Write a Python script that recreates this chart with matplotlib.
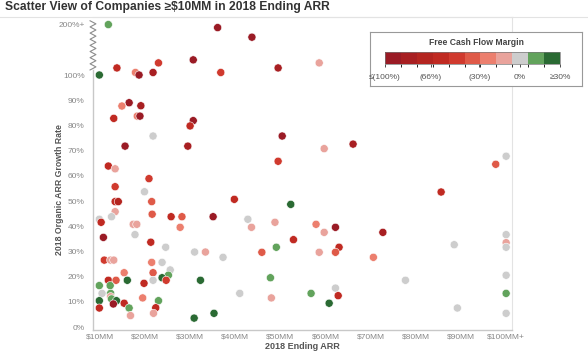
import numpy as np
import matplotlib
matplotlib.use('Agg')
import matplotlib.pyplot as plt
from matplotlib.colors import ListedColormap, BoundaryNorm
from matplotlib.lines import Line2D
import matplotlib.transforms as mtransforms

plt.rcParams['font.family'] = ['Liberation Sans', 'DejaVu Sans']

# 2018 ending ARR ($MM, 100 = "$100MM+"), organic growth (%, 200 = "200%+"), FCF margin (%)
arr = [11.9, 36.1, 43.7, 9.9, 13.8, 17.9, 18.7, 21.8, 23.0, 30.7, 36.8, 49.5, 58.6,
       16.5, 14.9, 19.1, 13.1, 18.3, 18.9, 30.7, 30.0, 21.8, 15.6, 29.5, 11.9, 13.4,
       20.9, 13.4, 19.9, 13.4, 14.1, 21.5, 39.8, 13.4, 21.6, 9.9, 12.6, 10.3, 25.8,
       28.2, 35.1, 27.8, 17.4, 18.2, 17.8, 10.8, 21.3, 24.6, 31.0, 33.4, 37.3, 11.0,
       12.4, 13.1, 21.5, 23.8, 25.6, 15.4, 21.8, 25.2, 23.8, 24.7, 21.8, 16.1, 32.3,
       11.9, 13.6, 19.8, 9.9, 12.3, 10.5, 12.4, 12.4, 12.6, 19.5, 9.9, 13.7, 23.0,
       13.0, 15.4, 16.5, 22.4, 9.9, 21.9, 16.8, 30.9, 35.3, 41.0,
       50.4, 59.7, 66.1, 49.5, 52.3, 42.8, 43.6, 48.8, 57.9, 62.2, 59.7, 72.7, 52.9,
       49.1, 63.0, 45.9, 58.6, 62.2, 70.6, 77.7, 47.8, 48.0, 56.8, 62.2, 62.8, 60.8,
       100, 97.7, 85.6, 100, 100, 100, 88.5, 100, 100, 89.2, 100]
growth = [200, 194, 175, 100, 114, 105, 100, 105, 124, 130, 105, 114, 124,
          89.0, 87.7, 87.8, 82.8, 83.7, 83.7, 81.9, 79.8, 75.8, 71.8, 71.8, 63.9, 62.8,
          58.9, 55.7, 53.7, 49.8, 49.8, 49.8, 50.7, 45.8, 44.8, 42.8, 43.8, 41.6, 43.8,
          43.8, 43.8, 39.6, 40.8, 40.8, 36.7, 35.6, 33.7, 31.7, 29.8, 29.8, 27.7, 26.6,
          26.6, 26.6, 25.7, 25.7, 22.7, 21.6, 21.6, 20.6, 19.6, 18.6, 18.6, 18.6, 18.6,
          18.6, 18.6, 17.4, 16.5, 16.5, 13.4, 13.4, 12.1, 11.2, 11.6, 10.5, 10.5, 10.5,
          9.2, 9.5, 7.6, 7.7, 7.6, 5.5, 4.6, 3.6, 5.5, 13.4,
          75.8, 70.8, 72.6, 65.8, 48.7, 42.8, 39.6, 41.6, 40.8, 39.6, 37.6, 37.6, 34.7,
          31.7, 31.7, 29.7, 29.7, 29.7, 27.7, 18.6, 19.6, 11.6, 13.4, 15.5, 12.5, 9.5,
          67.8, 64.6, 53.6, 36.7, 33.5, 31.7, 32.7, 20.6, 13.4, 7.6, 5.5]
fcf = [12, -110, -110, 25, -58, -23, -110, -82, -47, -110, -47, -82, -11,
       -110, -23, -82, -58, -23, -110, -110, -58, 0, -110, -82, -58, -11,
       -47, -47, 0, -58, -70, -35, -58, -11, -35, 0, 0, -58, -58,
       -35, -110, -23, -11, -11, 0, -110, -58, 0, 0, -11, 0, -47,
       -11, -11, -23, 0, 0, -23, -35, 12, 25, -47, 0, 25, 25,
       -58, -35, -58, 12, 12, 0, 12, -11, 12, -23, 25, 25, 12,
       -110, -58, 12, -58, -58, -11, -11, 25, 25, 0,
       -110, -11, -82, -47, 25, 0, -11, -11, -23, -110, -11, -82, -58,
       12, -58, -35, -11, -35, -23, 0, 12, -11, 12, 0, -58, 25,
       0, -35, -58, 0, -11, 0, 0, 0, 12, 0, 0]

legend_colors = ['#9a1b25', '#a81f22', '#b42520', '#c02a22', '#d03a2e', '#df5a48',
                 '#ec7f6e', '#e9a39c', '#cdcdcd', '#62a35c', '#2a6a33']
legend_ticks = [-100, -66, -30, 0, 30]
legend_labels = ['≤(100%)', '(66%)', '(30%)', '0%', '≥30%']

x_ticks = [10, 20, 30, 40, 50, 60, 70, 80, 90, 100]
x_labels = ['$10MM', '$20MM', '$30MM', '$40MM', '$50MM', '$60MM', '$70MM',
            '$80MM', '$90MM', '$100MM+']
y_ticks = [0, 10, 20, 30, 40, 50, 60, 70, 80, 90, 100, 200]
y_labels = ['0%', '10%', '20%', '30%', '40%', '50%', '60%', '70%', '80%', '90%',
            '100%', '200%+']

# axis break: 100%..200% squeezed
def fwd(g):
    g = np.asarray(g, dtype=float)
    return np.where(g <= 100, g, 100 + (g - 100) * 0.2)

def inv(d):
    d = np.asarray(d, dtype=float)
    return np.where(d <= 100, d, 100 + (d - 100) / 0.2)

edges = np.linspace(-100, 30, 12)
cmap = ListedColormap(legend_colors)
norm = BoundaryNorm(edges, cmap.N, clip=True)

fig = plt.figure(figsize=(5.88, 3.52), dpi=100)
ax = fig.add_axes([93/588, 1-329.7/352, 419/588, 312.7/352])
ax.set_yscale('function', functions=(fwd, inv))

ax.scatter(arr, growth, c=fcf, cmap=cmap, norm=norm, s=34,
           edgecolors='white', linewidths=0.4, zorder=3)

ax.set_xlim(8.5, 101.3)
ax.set_ylim(-1, inv(123))
ax.set_xticks(x_ticks)
ax.set_xticklabels(x_labels)
ax.set_yticks(y_ticks)
ax.set_yticklabels(y_labels)
ax.tick_params(length=0, labelsize=6, labelcolor='#888888')
ax.tick_params(axis='x', pad=3)
ax.tick_params(axis='y', pad=6)
ax.minorticks_off()

for s in ['top', 'right']:
    ax.spines[s].set_color('#e3e3e3')
    ax.spines[s].set_linewidth(0.8)
for s in ['left', 'bottom']:
    ax.spines[s].set_color('#c8c8c8')
    ax.spines[s].set_linewidth(1.0)
ax.spines['left'].set_bounds(-1, inv(102))

# zigzag for the break
zz_d = np.linspace(102, 121.5, 17)
zz_x = np.where(np.arange(17) % 2 == 0, -0.007, 0.007)
trans = mtransforms.blended_transform_factory(ax.transAxes, ax.transData)
ax.plot(zz_x, inv(zz_d), color='#8c8c8c', lw=0.8, transform=trans, clip_on=False)

ax.set_xlabel('2018 Ending ARR', fontsize=6.5, fontweight='bold', color='#555555',
              labelpad=0.5)
fig.text(60/588, 1-190/352, '2018 Organic ARR Growth Rate', rotation=90,
         fontsize=6.3, fontweight='bold', color='#555555', ha='center', va='center')

fig.text(5/588, 1-7/352, 'Scatter View of Companies ≥$10MM in 2018 Ending ARR',
         fontsize=8.7, fontweight='bold', color='#333333', ha='left', va='center')
fig.add_artist(Line2D([0, 1], [1-17/352, 1-17/352], color='#e3e3e3', lw=0.8,
                      transform=fig.transFigure))

# legend box
lax = fig.add_axes([370/588, 1-86/352, 212/588, 54/352])
lax.set_xticks([])
lax.set_yticks([])
lax.set_facecolor('white')
for s in lax.spines.values():
    s.set_color('#999999')
    s.set_linewidth(0.8)
lax.text(0.5, 0.80, 'Free Cash Flow Margin', transform=lax.transAxes, ha='center',
         va='center', fontsize=6.2, fontweight='bold', color='#444444')

cax = fig.add_axes([385/588, 1-64/352, 175/588, 12/352])
sm = matplotlib.cm.ScalarMappable(norm=norm, cmap=cmap)
cb = fig.colorbar(sm, cax=cax, orientation='horizontal', ticks=legend_ticks,
                  spacing='proportional')
cb.set_ticklabels(legend_labels)
cb.outline.set_edgecolor('#777777')
cb.outline.set_linewidth(0.5)
cax.tick_params(length=2, width=0.6, color='#333333', labelsize=6,
                labelcolor='#555555', pad=5)

fig.savefig('out.png', dpi=100)
